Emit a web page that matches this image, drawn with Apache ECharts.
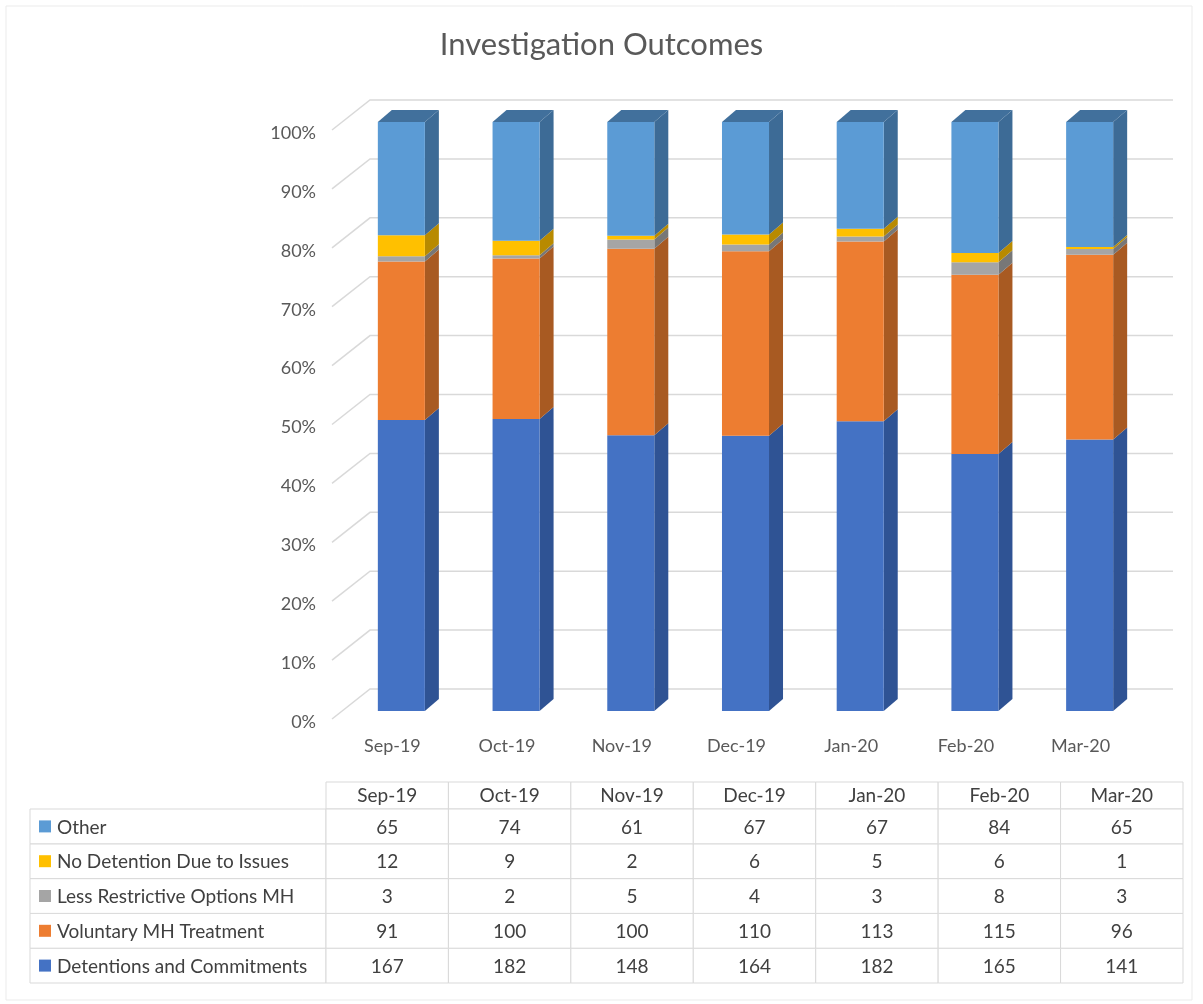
<!DOCTYPE html>
<html>
<head>
<meta charset="utf-8">
<script src="https://cdn.jsdelivr.net/npm/echarts@6/dist/echarts.min.js"></script>
<style>
  html, body { margin: 0; background: #fff; }
  #chart { width: 1203px; height: 1004px; }
</style>
</head>
<body>
<div id="chart"></div>
<script>
const months = ['Sep-19', 'Oct-19', 'Nov-19', 'Dec-19', 'Jan-20', 'Feb-20', 'Mar-20']
// stacking order, bottom to top
const seriesNames = ['Detentions and Commitments', 'Voluntary MH Treatment', 'Less Restrictive Options MH', 'No Detention Due to Issues', 'Other']
const detentions = [167, 182, 148, 164, 182, 165, 141]
const voluntary = [91, 100, 100, 110, 113, 115, 96]
const lessRestrictive = [3, 2, 5, 4, 3, 8, 3]
const noDetention = [12, 9, 2, 6, 5, 6, 1]
const other = [65, 74, 61, 67, 67, 84, 65]
const percentTicks = [0, 10, 20, 30, 40, 50, 60, 70, 80, 90, 100]

const values = [detentions, voluntary, lessRestrictive, noDetention, other]
const frontColors = ['#4472c4', '#ed7d31', '#a5a5a5', '#ffc000', '#5b9bd5']
const sideColors = ['#2f5394', '#a85a22', '#777777', '#b88a00', '#3d6b96']
const topColor = '#41709c'
const FONT = 'Lato, "Open Sans", sans-serif'
const DX = 14, DY = -12

const totals = months.map((m, i) => values.reduce((sum, arr) => sum + arr[i], 0))

const barSeries = values.map((arr, s) => {
  const data = arr.map((v, i) => {
    let base = 0
    for (let k = 0; k < s; k++) base += values[k][i]
    return [i, base / totals[i] * 100, (base + v) / totals[i] * 100]
  })
  const isTop = s === values.length - 1
  return {
    type: 'custom',
    name: seriesNames[s],
    xAxisIndex: 0,
    yAxisIndex: 0,
    z: 5,
    data,
    encode: { x: 0, y: [1, 2] },
    renderItem: (params, api) => {
      const i = api.value(0)
      const p0 = api.coord([i, api.value(1)])
      const p1 = api.coord([i, api.value(2)])
      const w = api.size([1, 0])[0] * 0.41
      const xl = p0[0] - w / 2
      const xr = p0[0] + w / 2
      const children = [
        { type: 'polygon', shape: { points: [[xr, p1[1]], [xr + DX, p1[1] + DY], [xr + DX, p0[1] + DY], [xr, p0[1]]] }, style: { fill: sideColors[s] } },
        { type: 'rect', shape: { x: xl, y: p1[1], width: w, height: p0[1] - p1[1] }, style: { fill: frontColors[s] } }
      ]
      if (isTop) {
        children.push({ type: 'polygon', shape: { points: [[xl, p1[1]], [xl + DX, p1[1] + DY], [xr + DX, p1[1] + DY], [xr, p1[1]]] }, style: { fill: topColor } })
      }
      return { type: 'group', children }
    }
  }
})

// back wall gridlines with the floor diagonal
const gridSeries = {
  type: 'custom',
  xAxisIndex: 0,
  yAxisIndex: 0,
  z: 1,
  silent: true,
  data: percentTicks.map(v => [0, v]),
  encode: { x: 0, y: 1 },
  renderItem: (params, api) => {
    const y = api.coord([0, api.value(1)])[1]
    const cs = params.coordSys
    return {
      type: 'polyline',
      shape: { points: [[cs.x - 12, y + 8], [cs.x + 26, y - 22], [cs.x + cs.width + 26, y - 22]] },
      style: { stroke: '#d9d9d9', lineWidth: 1.5, fill: null }
    }
  }
}

const cellStyle = { stroke: '#d9d9d9', lineWidth: 1, fill: '#fff' }
const textStyle = { fontSize: 19, fontFamily: FONT, fill: '#404040' }

const cellData = []
values.forEach((arr, s) => arr.forEach((v, i) => cellData.push([i, s, v])))

const tableCells = {
  type: 'custom',
  xAxisIndex: 1,
  yAxisIndex: 1,
  silent: true,
  data: cellData,
  encode: { x: 0, y: 1 },
  renderItem: (params, api) => {
    const c = api.coord([api.value(0), api.value(1)])
    const sz = api.size([1, 1])
    return {
      type: 'group',
      children: [
        { type: 'rect', shape: { x: c[0] - sz[0] / 2, y: c[1] - sz[1] / 2, width: sz[0], height: sz[1] }, style: cellStyle },
        { type: 'text', x: c[0], y: c[1] + 1, style: Object.assign({ text: String(api.value(2)), align: 'center', verticalAlign: 'middle' }, textStyle) }
      ]
    }
  }
}

const tableLabels = {
  type: 'custom',
  xAxisIndex: 1,
  yAxisIndex: 1,
  silent: true,
  data: seriesNames.map((n, s) => [0, s]),
  encode: { x: 0, y: 1 },
  renderItem: (params, api) => {
    const s = api.value(1)
    const c = api.coord([0, s])
    const h = api.size([1, 1])[1]
    const left = 30
    const right = params.coordSys.x
    return {
      type: 'group',
      children: [
        { type: 'rect', shape: { x: left, y: c[1] - h / 2, width: right - left, height: h }, style: cellStyle },
        { type: 'rect', shape: { x: 39, y: c[1] - 6, width: 12, height: 12 }, style: { fill: frontColors[s] } },
        { type: 'text', x: 57, y: c[1] + 1, style: Object.assign({ text: seriesNames[s], align: 'left', verticalAlign: 'middle' }, textStyle) }
      ]
    }
  }
}

const tableHeader = {
  type: 'custom',
  xAxisIndex: 1,
  yAxisIndex: 1,
  silent: true,
  data: months.map((m, i) => [i, seriesNames.length - 1]),
  encode: { x: 0, y: 1 },
  renderItem: (params, api) => {
    const i = api.value(0)
    const c = api.coord([i, seriesNames.length - 1])
    const w = api.size([1, 1])[0]
    const top = params.coordSys.y - 27
    return {
      type: 'group',
      children: [
        { type: 'rect', shape: { x: c[0] - w / 2, y: top, width: w, height: 27 }, style: cellStyle },
        { type: 'text', x: c[0], y: top + 14, style: Object.assign({ text: months[i], align: 'center', verticalAlign: 'middle' }, textStyle) }
      ]
    }
  }
}

const chart = echarts.init(document.getElementById('chart'))
chart.setOption({
  backgroundColor: '#fff',
  animation: false,
  title: {
    text: 'Investigation Outcomes',
    left: 'center',
    top: 24,
    textStyle: { fontSize: 31, fontWeight: 'normal', color: '#595959', fontFamily: FONT }
  },
  graphic: [{
    type: 'rect',
    shape: { x: 6, y: 6, width: 1186, height: 994 },
    style: { fill: null, stroke: '#ebebeb', lineWidth: 1 },
    silent: true
  }],
  grid: [
    { left: 344, right: 56, top: 122, bottom: 293 },
    { left: 326, right: 20, top: 809, height: 174 }
  ],
  xAxis: [
    {
      type: 'category',
      gridIndex: 0,
      data: months,
      axisLine: { show: false },
      axisTick: { show: false },
      axisLabel: { margin: 26, color: '#595959', fontSize: 18, fontFamily: FONT, padding: [0, 18, 0, 0] }
    },
    {
      type: 'category',
      gridIndex: 1,
      data: months,
      show: false
    }
  ],
  yAxis: [
    {
      type: 'value',
      gridIndex: 0,
      min: 0,
      max: 100,
      interval: 10,
      splitLine: { show: false },
      axisLine: { show: false },
      axisTick: { show: false },
      axisLabel: { formatter: '{value}%', margin: 28, color: '#595959', fontSize: 18, fontFamily: FONT, verticalAlign: 'top', lineHeight: 22 }
    },
    {
      type: 'category',
      gridIndex: 1,
      data: seriesNames,
      show: false
    }
  ],
  series: [gridSeries].concat(barSeries, [tableHeader, tableLabels, tableCells])
})
</script>
</body>
</html>
